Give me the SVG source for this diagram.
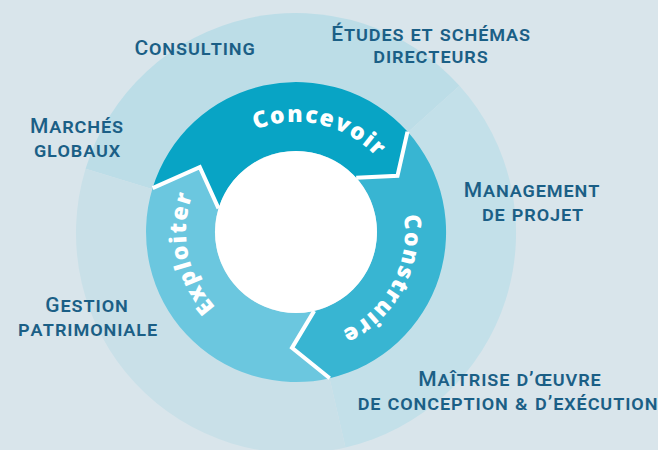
<svg xmlns="http://www.w3.org/2000/svg" width="658" height="450" viewBox="0 0 658 450">
  <style>
    .lbl { font-family: Roboto, "Liberation Sans", sans-serif; font-weight: 500; font-size: 21px; font-variant: small-caps; letter-spacing: 0.9px; fill: #1b5f86; text-anchor: middle; }
    .ring { font-family: "Open Sans", "DejaVu Sans", sans-serif; font-weight: 800; font-size: 23px; letter-spacing: 1.6px; fill: #ffffff; }
    .sep { fill: none; stroke: #ffffff; stroke-width: 4; stroke-linejoin: miter; }
  </style>
  <defs>
    <path id="arcConcevoir" d="M188.8,207.25 A110,110 0 0 1 403.2,256.75"/>
    <path id="arcConstruire" d="M348,136.2 A109,109 0 0 1 244,327.8"/>
    <path id="arcExploiter" d="M317.9,339.8 A110,110 0 0 1 274.1,124.2"/>
  </defs>
  <rect width="658" height="450" fill="#d9e5eb"/>
  <g id="outer-ring">
    <path d="M296,233 L85.6,168.7 A220,220 0 0 1 459.5,85.8 Z" fill="#bcdde7"/>
    <path d="M296,233 L459.5,85.8 A220,220 0 0 1 345.5,447.4 Z" fill="#c3e0e9"/>
    <path d="M296,233 L345.5,447.4 A220,220 0 0 1 85.6,168.7 Z" fill="#c9e0e8"/>
  </g>
  <g id="concevoir">
    <path d="M152.6,188.1 A150,150 0 0 1 407.5,131.6 L397.5,175.8 L356.2,177.8 A81,81 0 0 0 218.5,208.3 L199.8,167.1 Z" fill="#08a4c5"/>
    <text class="ring"><textPath href="#arcConcevoir" startOffset="50%" text-anchor="middle">Concevoir</textPath></text>
  </g>
  <g id="construire">
    <path d="M407.5,131.6 A150,150 0 0 1 329.75,378.2 L292,347.9 L314.2,310.9 A81,81 0 0 0 356.2,177.8 L397.5,175.8 Z" fill="#38b5d2"/>
    <text class="ring"><textPath href="#arcConstruire" startOffset="50%" text-anchor="middle">Construire</textPath></text>
  </g>
  <g id="exploiter">
    <path d="M329.75,378.2 A150,150 0 0 1 152.6,188.1 L199.8,167.1 L218.5,208.3 A81,81 0 0 0 314.2,310.9 L292,347.9 Z" fill="#6bc7df"/>
    <text class="ring"><textPath href="#arcExploiter" startOffset="50%" text-anchor="middle">Exploiter</textPath></text>
  </g>
  <circle id="hub" cx="296" cy="232" r="81" fill="#ffffff"/>
  <g id="separators">
    <polyline class="sep" points="152.6,188.1 199.8,167.1 218.5,208.3"/>
    <polyline class="sep" points="407.5,131.6 397.5,175.8 356.2,177.8"/>
    <polyline class="sep" points="329.75,378.2 292,347.9 314.2,310.9"/>
  </g>
  <g id="consulting"><text class="lbl" x="195" y="55">Consulting</text></g>
  <g id="etudes"><text class="lbl" x="431" y="41">Études et schémas</text><text class="lbl" x="431" y="63">directeurs</text></g>
  <g id="marches"><text class="lbl" x="77" y="133">Marchés</text><text class="lbl" x="77.5" y="157">globaux</text></g>
  <g id="management"><text class="lbl" x="532" y="197">Management</text><text class="lbl" x="533" y="221">de projet</text></g>
  <g id="gestion"><text class="lbl" x="87" y="312">Gestion</text><text class="lbl" x="88" y="336">patrimoniale</text></g>
  <g id="maitrise"><text class="lbl" x="510" y="386">Maîtrise d’œuvre</text><text class="lbl" x="508" y="410">de conception &amp; d’exécution</text></g>
</svg>
